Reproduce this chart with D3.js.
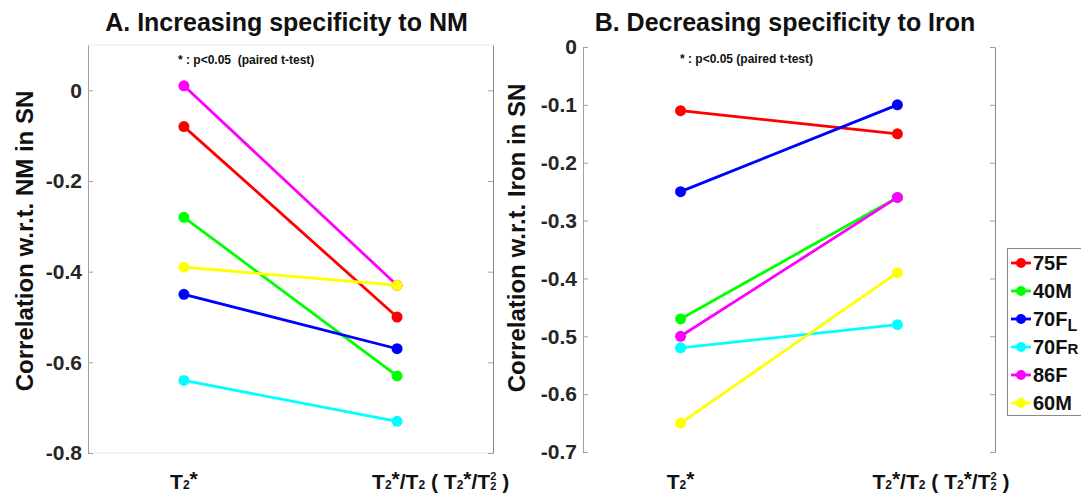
<!DOCTYPE html>
<html><head><meta charset="utf-8">
<script src="https://cdn.jsdelivr.net/npm/d3@7/dist/d3.min.js"></script>
<style>
body{margin:0;background:#fff;}
text{font-family:"Liberation Sans",Arial,sans-serif;font-weight:bold;}
</style></head>
<body><svg id="c" width="1081" height="499"></svg>
<script>
const subjects = ["75F","40M","70FL","70FR","86F","60M"];
const colors = ["#ff0000","#00ff00","#0000ff","#00ffff","#ff00ff","#ffff00"];
const conditions = [1, 2];
const nmT2star = [-0.08,-0.28,-0.45,-0.64,0.01,-0.39];
const nmRatio  = [-0.50,-0.63,-0.57,-0.73,-0.43,-0.43];
const ironT2star = [-0.11,-0.47,-0.25,-0.52,-0.50,-0.65];
const ironRatio  = [-0.15,-0.26,-0.10,-0.48,-0.26,-0.39];
const ticksA = [0,-0.2,-0.4,-0.6,-0.8];
const ticksB = [0,-0.1,-0.2,-0.3,-0.4,-0.5,-0.6,-0.7];
const titleA = "A. Increasing specificity to NM";
const titleB = "B. Decreasing specificity to Iron";
const ylabA = "Correlation w.r.t. NM in SN";
const ylabB = "Correlation w.r.t. Iron in SN";

const svg = d3.select("#c");
const txt = "#262626", axc = "#a0a0a0";

function panel(o){
  const g = svg.append("g");
  const x = d3.scaleLinear().domain([0.55,2.45]).range([o.l,o.r]);
  const y = d3.scaleLinear().domain(o.dom).range([o.b,o.t]);
  if(o.box){
    g.append("line").attr("x1",o.l).attr("x2",o.r).attr("y1",o.t).attr("y2",o.t).attr("stroke","#e8e8e8");
    g.append("line").attr("x1",o.l).attr("x2",o.r).attr("y1",o.b).attr("y2",o.b).attr("stroke","#e8e8e8");
  }
  const ax = g.append("g").attr("transform",`translate(${o.l},0)`)
    .call(d3.axisLeft(y).tickValues(o.ticks).tickFormat(d=>d===0?"0":String(d)).tickSizeInner(-5).tickSizeOuter(0).tickPadding(6));
  ax.select(".domain").attr("stroke",axc);
  ax.selectAll(".tick line").attr("stroke",axc);
  ax.selectAll(".tick text").attr("fill",txt).style("font-size","21px").style("font-family","'Liberation Sans',Arial,sans-serif").style("font-weight","bold");
  const ax2 = g.append("g").attr("transform",`translate(${o.r},0)`)
    .call(d3.axisRight(y).tickValues(o.ticks).tickFormat("").tickSizeInner(-5).tickSizeOuter(0));
  ax2.select(".domain").attr("stroke","#888");
  ax2.selectAll(".tick line").attr("stroke",axc);

  g.append("text").attr("x",(o.l+o.r)/2 - 4).attr("y",31).attr("text-anchor","middle")
    .attr("fill","#111").style("font-size","25px").text(o.title);
  g.append("text").attr("x",o.ax).attr("y",o.ay).attr("fill","#111").style("font-size","12px")
    .attr("xml:space","preserve").style("white-space","pre").text(o.note);
  g.append("text").attr("transform",`translate(${o.yl},${o.ym}) rotate(-90)`).attr("text-anchor","middle")
    .attr("fill","#111").style("font-size","24px").text(o.ylab);

  // x tick labels
  const t1 = g.append("text").attr("x",x(1)).attr("y",489).attr("text-anchor","middle").attr("fill","#111").style("font-size","21px");
  t1.append("tspan").text("T");
  t1.append("tspan").style("font-size","12px").text("2");
  t1.append("tspan").attr("dy",-3).text("*");
  const t2 = g.append("text").attr("x",x(2)-25).attr("y",489).attr("fill","#111").style("font-size","21px")
    .attr("xml:space","preserve").style("white-space","pre");
  t2.append("tspan").text("T");
  t2.append("tspan").style("font-size","12px").text("2");
  t2.append("tspan").attr("dy",-3).text("*");
  t2.append("tspan").attr("dy",3).text("/T");
  t2.append("tspan").style("font-size","12px").text("2");
  t2.append("tspan").text(" ( T");
  t2.append("tspan").style("font-size","12px").text("2");
  t2.append("tspan").attr("dy",-3).text("*");
  t2.append("tspan").attr("dy",3).text("/T");
  t2.append("tspan").style("font-size","11px").attr("dy",-9).text("2");
  t2.append("tspan").style("font-size","11px").attr("dx",-6.1).attr("dy",10).text("2");
  t2.append("tspan").attr("dy",-1).text(" )");

  subjects.forEach((s,i)=>{
    const pts = [[conditions[0],o.v1[i]],[conditions[1],o.v2[i]]];
    g.append("path").attr("d",d3.line().x(d=>x(d[0])).y(d=>y(d[1]))(pts))
      .attr("stroke",colors[i]).attr("stroke-width",2.8).attr("fill","none");
    g.selectAll(null).data(pts).enter().append("circle")
      .attr("cx",d=>x(d[0])).attr("cy",d=>y(d[1])).attr("r",5.5).attr("fill",colors[i]);
  });
}

panel({l:88,r:493,t:45,b:453,dom:[-0.8,0.1],ticks:ticksA,v1:nmT2star,v2:nmRatio,title:titleA,
  note:"* : p<0.05  (paired t-test)",ax:178,ay:64,ylab:ylabA,yl:32.5,ym:241,box:true});
panel({l:583,r:995,t:47,b:452,dom:[-0.7,0],ticks:ticksB,v1:ironT2star,v2:ironRatio,title:titleB,
  note:"* : p<0.05 (paired t-test)",ax:680,ay:63,ylab:ylabB,yl:524.5,ym:238,box:false});

// legend
const lg = svg.append("g");
lg.append("rect").attr("x",1007.5).attr("y",248.5).attr("width",90).attr("height",167)
  .attr("fill","#fff").attr("stroke","#888");
const ly = d3.scaleLinear().domain([0,5]).range([263,403]);
subjects.forEach((s,i)=>{
  const yy = ly(i);
  lg.append("line").attr("x1",1011).attr("x2",1031).attr("y1",yy).attr("y2",yy).attr("stroke",colors[i]).attr("stroke-width",2.8);
  lg.append("circle").attr("cx",1021).attr("cy",yy).attr("r",5).attr("fill",colors[i]);
  const t = lg.append("text").attr("x",1033).attr("y",yy+7).attr("fill","#111").style("font-size","20px");
  if(s==="70FL"){ t.append("tspan").text("70F"); t.append("tspan").style("font-size","16px").attr("dy",5).text("L"); }
  else if(s==="70FR"){ t.append("tspan").text("70F"); t.append("tspan").style("font-size","15px").text("R"); }
  else t.text(s);
});
</script></body></html>
